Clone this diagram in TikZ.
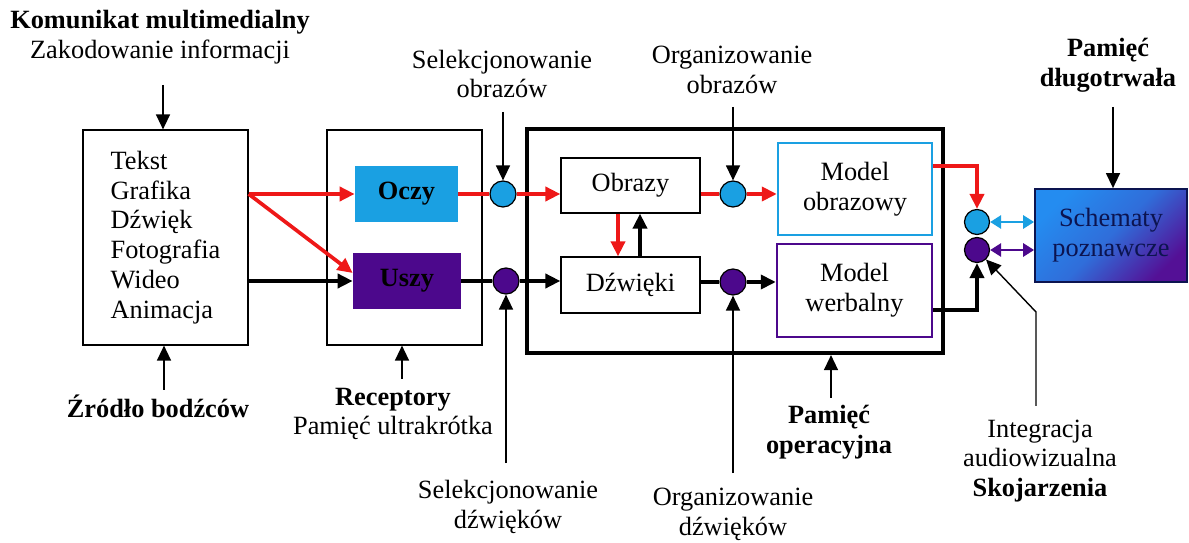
\documentclass[tikz,border=0pt]{standalone}
\usepackage{fontspec}
\setmainfont{Liberation Serif}
\usepackage{tikz}
\usetikzlibrary{arrows.meta}
\usetikzlibrary{calc}
\tikzset{>={Triangle[length=0.3cm,width=0.28cm]}}
\definecolor{eyeblue}{RGB}{26,160,226}
\definecolor{earpurple}{RGB}{76,8,140}
\definecolor{flowred}{RGB}{238,24,24}
\definecolor{schemblue}{RGB}{36,140,240}
\definecolor{schempurple}{RGB}{84,16,150}
\definecolor{schemtext}{RGB}{12,20,80}
\tikzset{
  box/.style={draw,rectangle,line width=0.7pt,align=center},
  knot/.style={draw,circle,line width=0.7pt,minimum size=0.52cm,inner sep=0pt},
  flow/.style={line width=2.1pt},
  feed/.style={->,line width=0.8pt},
  pair/.style={line width=1.7pt,arrows={Triangle[length=0.22cm,width=0.26cm]-Triangle[length=0.22cm,width=0.26cm]}},
  lbl/.style={align=center}
}

\begin{document}
\begin{tikzpicture}[x=0.02cm,y=-0.02cm,every node/.style={font=\fontsize{15}{17}\selectfont}]
\useasboundingbox (0,0) rectangle (1189,543);

% boxes
\node[box,minimum width=3.3cm,minimum height=4.3cm,align=left] (src) at (165.5,237.5) {Tekst\\Grafika\\Dźwięk\\Fotografia\\Wideo\\Animacja};
\node[box,minimum width=3.1cm,minimum height=4.3cm] (rec) at (404.5,237.5) {};
\node[fill=eyeblue,minimum width=2.06cm,minimum height=1.14cm] (oczy) at (406.5,194) {\textbf{Oczy}};
\node[fill=earpurple,minimum width=2.16cm,minimum height=1.14cm] (uszy) at (407,281) {\textbf{Uszy}};
\node[draw,line width=2.4pt,minimum width=8.32cm,minimum height=4.48cm] (op) at (735,241) {};
\node[box,minimum width=2.78cm,minimum height=1.1cm] (obrazy) at (630.5,185.5) {Obrazy};
\node[box,minimum width=2.78cm,minimum height=1.12cm] (dzwieki) at (630.5,285) {Dźwięki};
\node[box,draw=eyeblue,line width=1.4pt,minimum width=3.08cm,minimum height=1.84cm] (modobr) at (855,189) {Model\\obrazowy};
\node[box,draw=earpurple,line width=1.4pt,minimum width=3.1cm,minimum height=1.86cm] (modwer) at (854.5,290.5) {Model\\werbalny};
\node[box,draw=schemtext,line width=1pt,left color=schemblue,right color=schempurple,middle color=schemblue!75!schempurple,shading angle=45,text=schemtext,minimum width=3.04cm,minimum height=1.86cm] (schem) at (1111,235.5) {Schematy\\poznawcze};

% circles
\node[knot,fill=eyeblue] (c1) at (503,194) {};
\node[knot,fill=earpurple] (c2) at (506,281) {};
\node[knot,fill=eyeblue] (c3) at (733,194) {};
\node[knot,fill=earpurple] (c4) at (733,282) {};
\node[knot,fill=eyeblue,minimum size=0.5cm] (c5) at (977,222) {};
\node[knot,fill=earpurple,minimum size=0.5cm] (c6) at (977,250) {};

% labels
\node[lbl] (kom) at (160,37) {\textbf{Komunikat multimedialny}\\Zakodowanie informacji};
\node[lbl] (selob) at (502,74) {Selekcjonowanie\\obrazów};
\node[lbl] (orgob) at (732,70) {Organizowanie\\obrazów};
\node[lbl] (dlug) at (1108,65) {\textbf{Pamięć}\\\textbf{długotrwała}};
\node[lbl] (zrod) at (158,406) {\textbf{Źródło bodźców}};
\node[lbl] (recl) at (393,414) {\textbf{Receptory}\\Pamięć ultrakrótka};
\node[lbl] (selzw) at (508,507) {Selekcjonowanie\\dźwięków};
\node[lbl] (orgzw) at (733,514) {Organizowanie\\dźwięków};
\node[lbl] (opl) at (829,432) {\textbf{Pamięć}\\\textbf{operacyjna}};
\node[lbl] (intl) at (1040,461) {Integracja\\audiowizualna\\\textbf{Skojarzenia}};

% flows
\draw[flow,flowred,->] (src.east |- oczy.west) -- (oczy.west);
\draw[flow,flowred,->] (src.east |- oczy.west) -- ([yshift=0.16cm]uszy.west);
\draw[flow,->] (src.east |- uszy.west) -- (uszy.west);
\draw[flow,flowred] (oczy) -- (c1);
\draw[flow,flowred,->] (c1) -- (obrazy.west |- c1);
\draw[flow] (uszy) -- (c2);
\draw[flow,->] (c2) -- (dzwieki.west |- c2);
\draw[flow,flowred] (obrazy.east |- c3) -- (c3);
\draw[flow,flowred,->] (c3) -- (modobr.west |- c3);
\draw[flow] (dzwieki.east |- c4) -- (c4);
\draw[flow,->] (c4) -- (modwer.west |- c4);
\draw[flow,flowred,->] ([xshift=-0.25cm]obrazy.south) -- ([xshift=-0.25cm]dzwieki.north);
\draw[flow,->] ([xshift=0.19cm]dzwieki.north) -- ([xshift=0.19cm]obrazy.south);
\draw[flow,flowred,->] ([yshift=0.46cm]modobr.east) -| (c5);
\draw[flow,->] ([yshift=-0.39cm]modwer.east) -| (c6);
\draw[pair,eyeblue] (c5) -- (schem.west |- c5);
\draw[pair,earpurple] (c6) -- (schem.west |- c6);

% feeding arrows
\coordinate (komin) at (163,85);
\coordinate (selobin) at (503,112);
\coordinate (orgobin) at (733,107);
\coordinate (dlugin) at (1113,107);
\coordinate (zrodin) at (164,390);
\coordinate (recin) at (402,379);
\coordinate (selzwin) at (506,463);
\coordinate (orgzwin) at (733,473);
\coordinate (opin) at (831,398);
\coordinate (intin) at (1036,406);
\coordinate (intbend) at (1036,312);
\draw[feed] (komin) -- (komin |- src.north);
\draw[feed] (selobin) -- (c1);
\draw[feed] (orgobin) -- (c3);
\draw[feed] (dlugin) -- (dlugin |- schem.north);
\draw[feed] (zrodin) -- (zrodin |- src.south);
\draw[feed] (recin) -- (recin |- rec.south);
\draw[feed] (selzwin) -- (c2);
\draw[feed] (orgzwin) -- (c4);
\draw[feed] (opin) -- (opin |- op.south);
\draw[feed] (intin) -- (intbend) -- (c6);

\end{tikzpicture}
\end{document}
